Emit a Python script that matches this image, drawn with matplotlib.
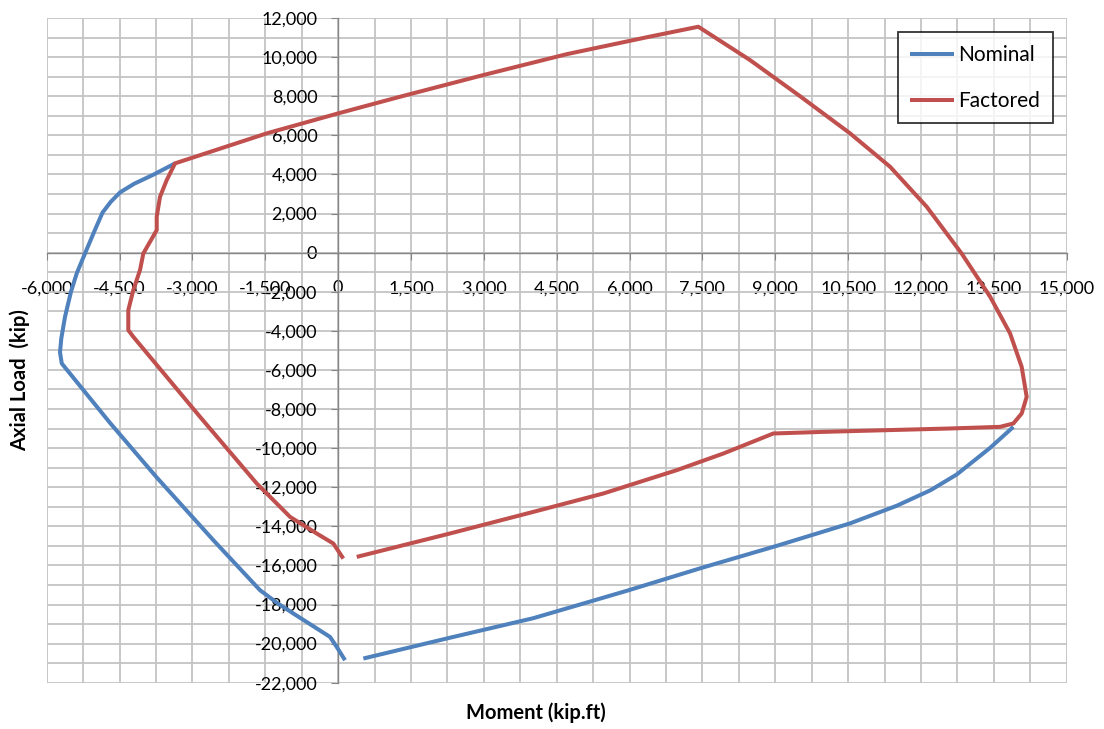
import numpy as np
import matplotlib
matplotlib.use("Agg")
import matplotlib.pyplot as plt
from matplotlib.ticker import MultipleLocator, FuncFormatter

plt.rcParams['font.family'] = ['Lato', 'DejaVu Sans']

# Nominal curve (visible part; gap = NaN)
nominal_m = [-3358, -3800, -4200, -4490, -4680, -4850, -5000, -5211, -5380, -5500, -5623, -5700, -5726, -5690,
             -4700, -3735, -2569, -1608, -1250, -922, -167, -29, 142,
             np.nan,
             519, 2302, 4019, 5942, 7519, 9030, 10540, 11500, 12200, 12736, 13422, 13902]
nominal_p = [4564, 3990, 3520, 3080, 2600, 2050, 1200, -41, -1050, -2000, -3285, -4400, -5100, -5670,
             -8700, -11500, -14710, -17269, -17930, -18460, -19658, -20170, -20850,
             np.nan,
             -20763, -19700, -18700, -17300, -16100, -15000, -13850, -12950, -12150, -11350, -9990, -8913]

# Factored curve
factored_m = [383, 2302, 4019, 5461, 6971, 7931, 8960, 9990, 12594, 13628, 13902, 14073, 14176,
              14073, 13834, 13422, 12838, 12118, 11364, 10540, 9510, 8479, 7416,
              6422, 4707, 2990, 1274, 0, -1470, -3358, -3529, -3667, -3735, -3735,
              -4010, -4079, -4217, -4320, -4320, -4217, -2843, -1676, -1470, -990, -441, -99, 107]
factored_p = [-15565, -14368, -13262, -12321, -11129, -10277, -9253, -9169, -8997, -8913, -8741, -8230, -7378,
              -5843, -4134, -2250, -50, 2344, 4390, 6099, 8000, 9850, 11553,
              11050, 10150, 9082, 7972, 7120, 6099, 4564, 3709, 2855, 1832, 1151,
              -41, -895, -1919, -2942, -3966, -4307, -8402, -11810, -12321, -13518, -14368, -14880, -15650]

W, H = 1104, 729
fig = plt.figure(figsize=(W / 100, H / 100), dpi=100)
left, right, top, bottom = 46.7, 1066.7, 18.0, 682.7
ax = fig.add_axes([left / W, 1 - bottom / H, (right - left) / W, (bottom - top) / H])

ax.set_xlim(-6000, 15000)
ax.set_ylim(-22000, 12000)

ax.plot(nominal_m, nominal_p, color='#4F81BD', lw=2.9, label='Nominal', solid_capstyle='butt',
        solid_joinstyle='round', zorder=3)
ax.plot(factored_m, factored_p, color='#C0504D', lw=2.9, label='Factored', solid_capstyle='butt',
        solid_joinstyle='round', zorder=4)

ax.xaxis.set_major_locator(MultipleLocator(1500))
ax.xaxis.set_minor_locator(MultipleLocator(750))
ax.yaxis.set_major_locator(MultipleLocator(2000))
ax.yaxis.set_minor_locator(MultipleLocator(1000))
ax.grid(which='both', color='#c4c4c4', lw=1.3, zorder=0)
ax.set_axisbelow(True)

fmt = FuncFormatter(lambda v, p: f"{int(round(v)):,}")
ax.xaxis.set_major_formatter(fmt)
ax.yaxis.set_major_formatter(fmt)

for s in ['top', 'right']:
    ax.spines[s].set_visible(False)
ax.spines['left'].set_position(('data', 0))
ax.spines['bottom'].set_position(('data', 0))
for s in ['left', 'bottom']:
    ax.spines[s].set_color('#868686')
    ax.spines[s].set_linewidth(1.0)
    ax.spines[s].set_zorder(2)

ax.tick_params(which='minor', length=0)
ax.tick_params(axis='x', which='major', direction='out', length=5, color='#868686',
               labelsize=13, pad=15, labelcolor='#000000')
ax.tick_params(axis='y', which='major', direction='out', length=5, color='#868686',
               labelsize=13, pad=10, labelcolor='#000000')

leg = ax.legend(loc='upper right', bbox_to_anchor=((1052.7 - left) / (right - left), 1 - (32.3 - top) / (bottom - top)),
                fontsize=15, frameon=True, fancybox=False, edgecolor='#000000',
                handlelength=2.1, handletextpad=0.2, labelspacing=1.25, borderpad=0.6,
                borderaxespad=0)
leg.get_frame().set_linewidth(1.3)
leg.set_zorder(10)

fig.text(535.5 / W, 1 - 713 / H, 'Moment (kip.ft)', ha='center', va='center',
         fontsize=14.5, fontweight='bold')
fig.text(20 / W, 1 - 380 / H, 'Axial Load  (kip)', ha='center', va='center',
         fontsize=14.5, fontweight='bold', rotation=90)

fig.savefig('out.png', dpi=100, facecolor='white')
